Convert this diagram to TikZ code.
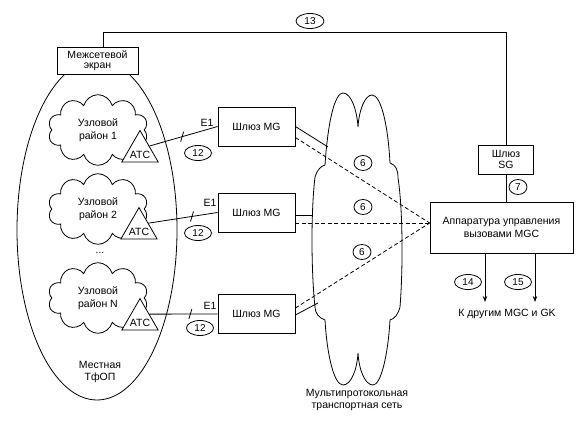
\documentclass[tikz,border=0pt]{standalone}
\usepackage{fontspec}
\setmainfont{Liberation Sans}
\usetikzlibrary{shapes.geometric,shapes.symbols,arrows.meta}

\begin{document}
\begin{tikzpicture}[x=1pt,y=-1pt,line width=.8pt,
	font=\fontsize{10.5}{12.5}\selectfont,
	box/.style={draw,fill=white,inner sep=1pt,align=center},
	num/.style={draw,ellipse,inner sep=.5pt,minimum width=18pt,minimum height=15pt,font=\fontsize{10}{11}\selectfont},
	uzel/.style={draw,cloud,cloud puffs=10,fill=white,minimum width=100pt,minimum height=64pt,inner sep=1pt,align=center},
	atc/.style={draw,regular polygon,regular polygon sides=3,fill=white,minimum size=42pt,inner sep=0pt},
	svyaz/.style={dash pattern=on 4pt off 2.5pt},
	strelka/.style={-{Stealth[length=6pt,width=4.5pt]}}]
\useasboundingbox (0,0) rectangle (584,435);

% местная сеть
\draw (97,230) ellipse [x radius=80, y radius=170];
\node[box,minimum width=81pt,minimum height=27pt] (ekran) at (97.5,60.5) {Межсетевой\\[-2pt]экран};
\node[align=center] (tfop) at (100,372) {Местная\\ТфОП};

\node[uzel] (rayon1) at (98,130) {Узловой\\район 1};
\node[uzel] (rayon2) at (98,209) {Узловой\\район 2};
\node (mnogo) at (100,253) {...};
\node[uzel] (rayonN) at (98,298) {Узловой\\район N};

\node[atc] (atc1) at (140,151.5) {};
\node at ([yshift=-3pt]atc1.center) {АТС};
\node[atc] (atc2) at (139,228.6) {};
\node at ([yshift=-3pt]atc2.center) {АТС};
\node[atc] (atcN) at (140,319.6) {};
\node at ([yshift=-3pt]atcN.center) {АТС};

% шлюзы
\node[box,minimum width=77pt,minimum height=39pt] (mg1) at (256.5,126.5) {Шлюз MG};
\node[box,minimum width=77pt,minimum height=39pt] (mg2) at (256.5,212.5) {Шлюз MG};
\node[box,minimum width=77pt,minimum height=39pt] (mg3) at (256.5,314) {Шлюз MG};

\draw (atc1.side 3) -- coordinate[pos=.48] (e1a) (mg1.west);
\draw ([shift={(-1.5,5)}]e1a) -- ([shift={(1.5,-5)}]e1a);
\draw (atc2.side 3) -- coordinate[pos=.63] (e1b) (mg2.west);
\draw ([shift={(-1.5,5)}]e1b) -- ([shift={(1.5,-5)}]e1b);
\draw (atcN.side 3) -- coordinate[pos=.6] (e1c) (mg3.west);
\draw ([shift={(-1.5,5)}]e1c) -- ([shift={(1.5,-5)}]e1c);
\node (e1t1) at (207,123) {E1};
\node (e1t2) at (210,203) {E1};
\node (e1t3) at (210,306) {E1};
\node[num,minimum width=27pt] (n12a) at (198,153) {12};
\node[num,minimum width=27pt] (n12b) at (198,233) {12};
\node[num,minimum width=27pt] (n12c) at (200,328) {12};

% транспортная сеть
\draw (325,165) .. controls (328,120) and (335,93) .. (343,93)
	.. controls (351,93) and (357,110) .. (358,127)
	.. controls (359,110) and (365,95) .. (372,95)
	.. controls (381,95) and (388,125) .. (390,163)
	.. controls (396,165) and (398,170) .. (398,178)
	.. controls (403,210) and (403,270) .. (400,307)
	.. controls (398,315) and (394,319) .. (390,320)
	.. controls (388,355) and (381,385) .. (373,385)
	.. controls (365,385) and (359,370) .. (358,353)
	.. controls (357,370) and (351,385) .. (343,385)
	.. controls (334,385) and (327,355) .. (325,320)
	.. controls (319,318) and (315,313) .. (315,307)
	.. controls (311,270) and (311,210) .. (315,177)
	.. controls (317,170) and (321,166) .. (325,165) -- cycle;
\node[align=center] (tset) at (357,400) {Мультипротокольная\\транспортная сеть};
\coordinate (vh1) at (328,147);
\coordinate (vh2) at (313,215);
\coordinate (vh3) at (318,303);

% управление
\node[box,minimum width=143pt,minimum height=51pt] (mgc) at (501.5,227.5) {Аппаратура управления\\вызовами MGC};
\node[box,minimum width=55pt,minimum height=29pt] (sg) at (506,159.5) {Шлюз\\[-2pt]SG};
\coordinate (vhod) at ([yshift=4.5pt]mgc.west);

\draw (mg1.east) -- (vh1);
\draw ([yshift=-2.5pt]mg2.east) -- (vh2);
\draw ([yshift=-1pt]mg3.east) -- (vh3);
\draw[svyaz] ([yshift=-11pt]mg1.east) -- (vhod);
\draw[svyaz] ([yshift=-10.5pt]mg2.east) -- (vhod);
\draw[svyaz] ([yshift=6pt]mg3.east) -- (vhod);
\node[num] (n6a) at (363,163) {6};
\node[num] (n6b) at (363,207) {6};
\node[num] (n6c) at (362,252) {6};

\draw ([xshift=5.5pt]ekran.north) -- ++(0,-14) -| (sg.north);
\node[num,minimum width=28pt] (n13) at (310,21) {13};
\draw (sg.south) -- (sg.south |- mgc.north);
\node[num] (n7) at (518,187) {7};

\coordinate (k14) at (485,302);
\coordinate (k15) at (535,302);
\draw[strelka] (k14 |- mgc.south) -- (k14);
\draw[strelka] (k15 |- mgc.south) -- (k15);
\node[num,minimum width=27pt] (n14) at (468,282) {14};
\node[num,minimum width=27pt] (n15) at (518,282) {15};
\node (kdrugim) at (507,314) {К другим MGC и GK};
\end{tikzpicture}
\end{document}
